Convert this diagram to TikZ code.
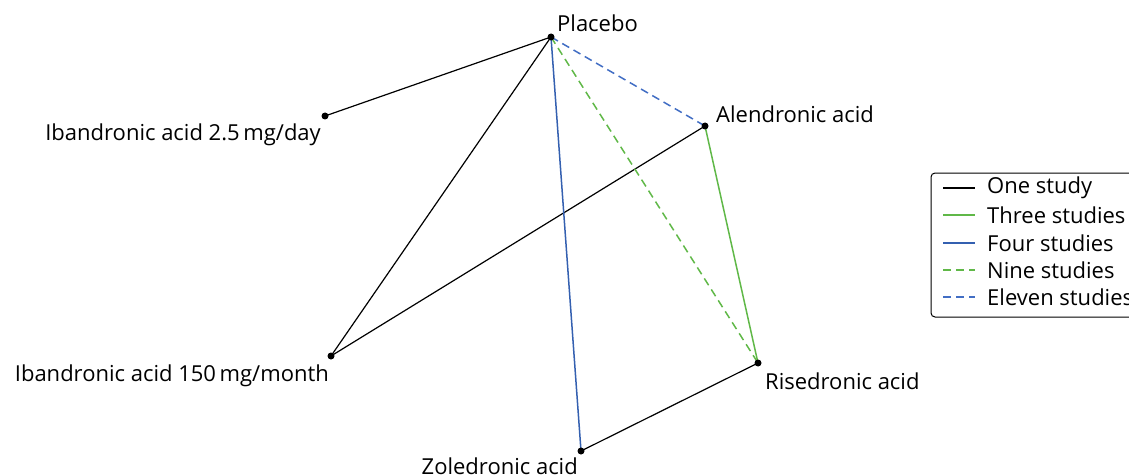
\documentclass[tikz,border=0pt]{standalone}
\usepackage{fontspec}
\setmainfont{Open Sans}
\definecolor{lgreen}{RGB}{96,184,72}
\definecolor{lblue}{RGB}{52,96,176}
\definecolor{dblue}{RGB}{66,110,196}
\tikzset{
  dot/.style={circle,fill=black,inner sep=0pt,minimum size=7pt},
  lab/.style={inner sep=0pt,font=\fontsize{22}{24}\selectfont},
  one/.style={black,line width=1.2pt},
  three/.style={lgreen,line width=1.5pt},
  four/.style={lblue,line width=1.5pt},
  nine/.style={lgreen,line width=1.5pt,dash pattern=on 8pt off 5pt},
  eleven/.style={dblue,line width=1.5pt,dash pattern=on 8pt off 5pt},
}
\begin{document}
\begin{tikzpicture}[x=1pt,y=-1pt]
\useasboundingbox (0,0) rectangle (1129,476);
\coordinate (pla) at (551,37);
\coordinate (ib25) at (325,116);
\coordinate (ale) at (705,126);
\coordinate (ib150) at (331,356);
\coordinate (ris) at (758,363);
\coordinate (zol) at (581,451);
% edges
\draw[one] (pla) -- (ib25);
\draw[one] (pla) -- (ib150);
\draw[one] (ale) -- (ib150);
\draw[one] (ris) -- (zol);
\draw[three] (ale) -- (ris);
\draw[four] (pla) -- (zol);
\draw[nine] (pla) -- (ris);
\draw[eleven] (pla) -- (ale);
% dots
\foreach \p in {pla,ib25,ale,ib150,ris,zol} \node[dot] at (\p) {};
% labels
\node[lab,anchor=west] (lpla) at (557,23) {Placebo};
\node[lab,anchor=west] (lale) at (716,114) {Alendronic acid};
\node[lab,anchor=east] (lib25) at (321,135) {Ibandronic acid 2.5\,mg/day};
\node[lab,anchor=east] (lib150) at (329,376) {Ibandronic acid 150\,mg/month};
\node[lab,anchor=west] (lris) at (765,381) {Risedronic acid};
\node[lab,anchor=east] (lzol) at (578,466) {Zoledronic acid};
% legend
\draw[line width=1pt,rounded corners=4pt] (931,173) rectangle (1160,317);
\foreach \y/\s/\t in {188/one/One study,215/three/Three studies,243/four/Four studies,270/nine/Nine studies,297/eleven/Eleven studies}{
  \draw[\s] (943,\y) -- (975,\y);
  \node[lab,anchor=west] at (987,\y) {\t};
}
\end{tikzpicture}
\end{document}
